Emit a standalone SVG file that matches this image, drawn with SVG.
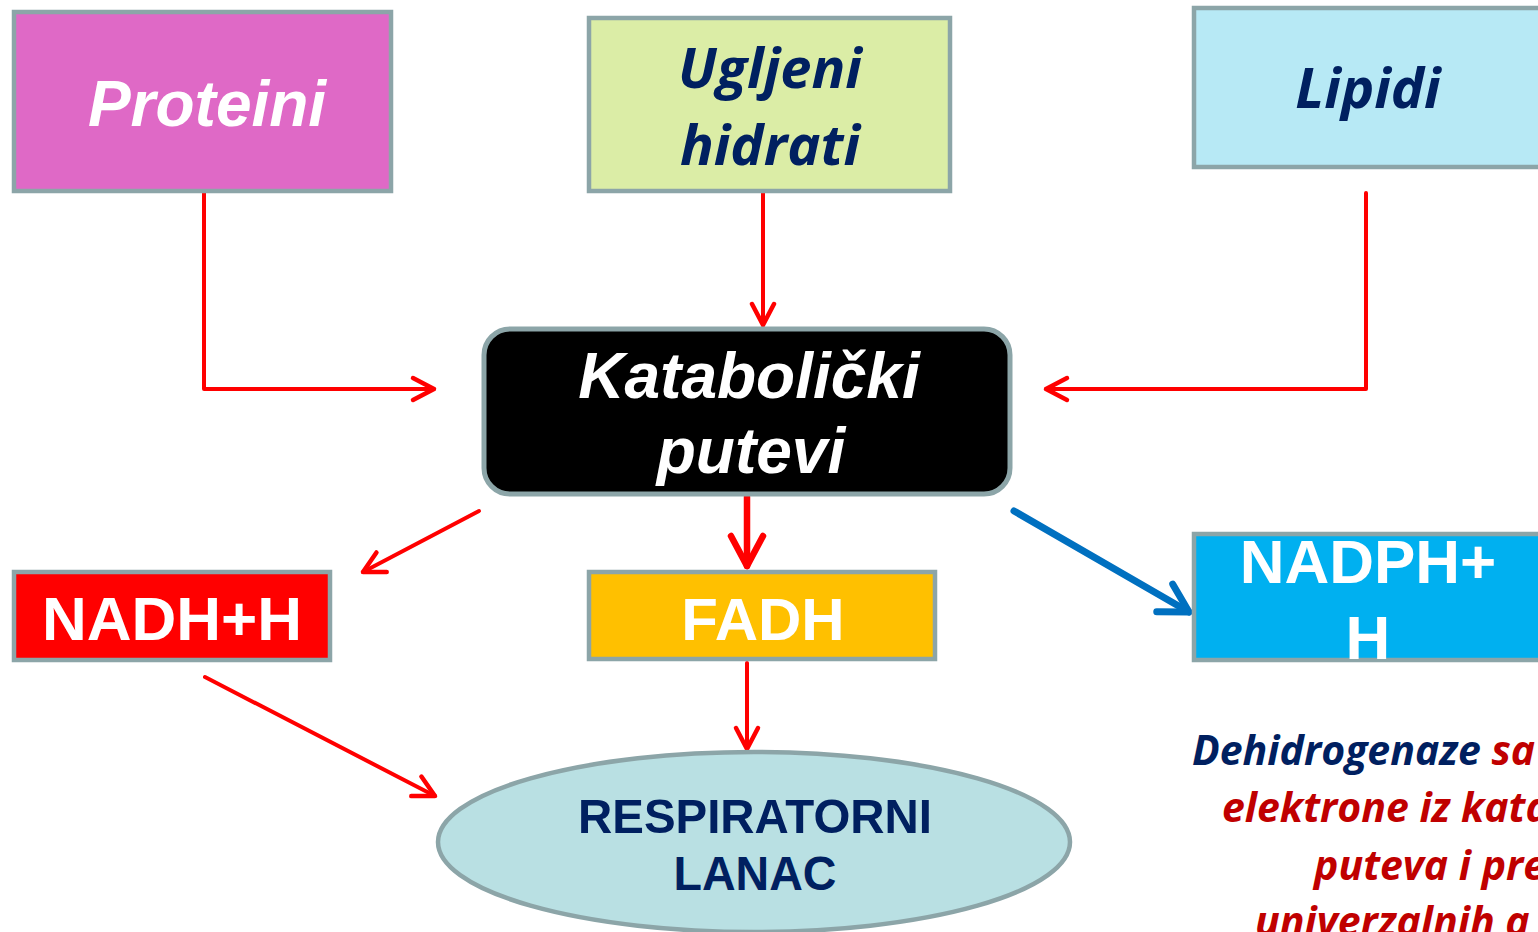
<svg xmlns="http://www.w3.org/2000/svg" width="1538" height="932" viewBox="0 0 1538 932">
<style>
.box{stroke:#8ca5a8;stroke-width:4.5}
.arial{font-family:"Liberation Sans",Arial,sans-serif;font-weight:700}
.cal{font-family:"Open Sans","Noto Sans",sans-serif;font-weight:700;font-style:italic}
.it{font-style:italic}
.w{fill:#ffffff}
.navy{fill:#002060}
.red{fill:#c00000}
.conn{fill:none;stroke:#ff0000;stroke-width:4;stroke-linecap:round;stroke-linejoin:round}
</style>
<defs>
<marker id="ah" markerUnits="userSpaceOnUse" viewBox="-28 -16 32 32" refX="0" refY="0" markerWidth="32" markerHeight="32" orient="auto">
<path d="M-21,-11 L0,0 L-21,11" fill="none" stroke="#ff0000" stroke-width="4.5" stroke-linecap="round" stroke-linejoin="round"/>
</marker>
<marker id="ahBig" markerUnits="userSpaceOnUse" viewBox="-36 -22 40 44" refX="0" refY="0" markerWidth="40" markerHeight="44" orient="auto">
<path d="M-30,-16 L0,0 L-30,16" fill="none" stroke="#ff0000" stroke-width="6.5" stroke-linecap="round" stroke-linejoin="round"/>
</marker>
<marker id="ahBlue" markerUnits="userSpaceOnUse" viewBox="-36 -22 40 44" refX="0" refY="0" markerWidth="40" markerHeight="44" orient="auto">
<path d="M-28,-16 L0,0 L-28,16" fill="none" stroke="#0070c0" stroke-width="7" stroke-linecap="round" stroke-linejoin="round"/>
</marker>
</defs>
<rect width="1538" height="932" fill="#ffffff"/>

<g id="connectors">
<path class="conn" d="M204,193 V389 H434" marker-end="url(#ah)"/>
<path class="conn" d="M763,193 V325" marker-end="url(#ah)"/>
<path class="conn" d="M1366,193 V389 H1046" marker-end="url(#ah)"/>
<path class="conn" d="M479,511 L363,572" marker-end="url(#ah)"/>
<path class="conn" style="stroke-width:6.5" d="M747,497 V566" marker-end="url(#ahBig)"/>
<path fill="none" stroke="#0070c0" stroke-width="7" stroke-linecap="round" d="M1014,511 L1189,612" marker-end="url(#ahBlue)"/>
<path class="conn" d="M205,677 L435,796" marker-end="url(#ah)"/>
<path class="conn" d="M747,663 V749" marker-end="url(#ah)"/>
</g>

<g id="node-proteini">
<rect class="box" x="14" y="12" width="377" height="179" fill="#df69c6"/>
<text class="arial it w" x="207" y="126" font-size="64" text-anchor="middle">Proteini</text>
</g>

<g id="node-ugljeni">
<rect class="box" x="589" y="18" width="361" height="173" fill="#dbeda6"/>
<text class="cal navy" x="770" y="88" font-size="56" text-anchor="middle">Ugljeni</text>
<text class="cal navy" x="770" y="165" font-size="56" text-anchor="middle">hidrati</text>
</g>

<g id="node-lipidi">
<rect class="box" x="1194" y="8" width="360" height="159" fill="#b7e9f5"/>
<text class="cal navy" x="1368" y="108" font-size="56" text-anchor="middle">Lipidi</text>
</g>

<g id="node-katabolicki">
<rect x="484" y="329" width="526" height="165" rx="26" ry="26" fill="#000000" stroke="#8ca5a8" stroke-width="5"/>
<text class="arial it w" x="749" y="398" font-size="64" text-anchor="middle">Katabolički</text>
<text class="arial it w" x="751" y="473" font-size="64" text-anchor="middle">putevi</text>
</g>

<g id="node-nadh">
<rect class="box" x="14" y="572" width="316" height="88" fill="#ff0000"/>
<text class="arial w" x="172" y="640" font-size="62" text-anchor="middle">NADH+H</text>
</g>

<g id="node-fadh">
<rect class="box" x="589" y="572" width="346" height="87" fill="#ffc000"/>
<text class="arial w" x="763" y="640" font-size="60" text-anchor="middle">FADH</text>
</g>

<g id="node-nadph">
<rect class="box" x="1194" y="534" width="360" height="126" fill="#00b0f0"/>
<text class="arial w" x="1368" y="583" font-size="62" text-anchor="middle">NADPH+</text>
<text class="arial w" x="1368" y="659" font-size="62" text-anchor="middle">H</text>
</g>

<g id="node-respiratorni">
<ellipse cx="754" cy="842" rx="316" ry="90" fill="#b9e0e3" stroke="#8ca5a8" stroke-width="4.5"/>
<text class="arial navy" x="755" y="833" font-size="49" text-anchor="middle" textLength="354" lengthAdjust="spacingAndGlyphs">RESPIRATORNI</text>
<text class="arial navy" x="755" y="890" font-size="49" text-anchor="middle" textLength="163" lengthAdjust="spacingAndGlyphs">LANAC</text>
</g>

<g id="note">
<text class="cal" font-size="41"><tspan class="navy" x="1192" y="765">Dehidrogenaze </tspan><tspan class="red">sa</tspan></text>
<text class="cal red" x="1222" y="822" font-size="41">elektrone iz kata</text>
<text class="cal red" x="1314" y="880" font-size="41">puteva i pre</text>
<text class="cal red" x="1255" y="936" font-size="41">univerzalnih a</text>
</g>
</svg>
